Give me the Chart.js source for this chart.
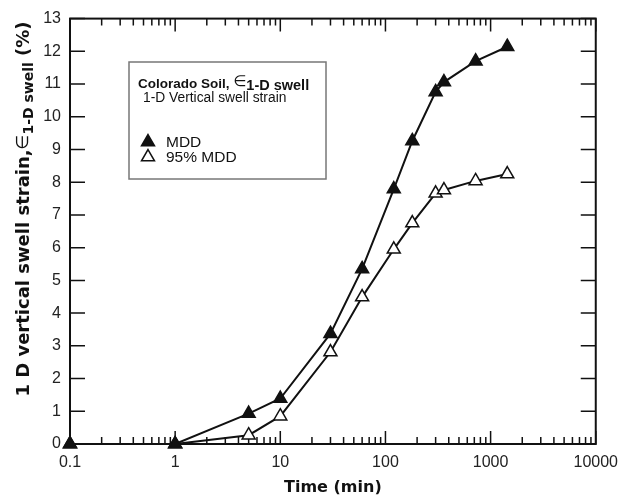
<!DOCTYPE html>
<html>
<head>
<meta charset="utf-8">
<script src="https://cdn.jsdelivr.net/npm/chart.js@4.4.0/dist/chart.umd.min.js"></script>
<style>
  html, body { margin: 0; padding: 0; background: #fff; }
  #wrap { width: 627px; height: 498px; }
</style>
</head>
<body>
<div id="wrap"><canvas id="swell-chart" width="627" height="498"></canvas></div>
<script>
// time (min) and 1-D vertical swell strain (%)
const timesMin = [0.1, 1, 5, 10, 30, 60, 120, 180, 300, 360, 720, 1440];
const mddStrain = [0, 0, 0.93, 1.39, 3.37, 5.35, 7.79, 9.26, 10.76, 11.06, 11.7, 12.14];
const mdd95Strain = [0, 0, 0.27, 0.85, 2.81, 4.49, 5.95, 6.75, 7.66, 7.76, 8.04, 8.25];
const seriesNames = ["MDD", "95% MDD"];
const xTickValues = [0.1, 1, 10, 100, 1000, 10000];
const yTickValues = [0, 1, 2, 3, 4, 5, 6, 7, 8, 9, 10, 11, 12, 13];

const toPoints = ys => timesMin.map((t, i) => ({ x: t, y: ys[i] }));
const INK = "#111";

// frame + inward ticks on all four sides (drawn under the markers)
const frameTicks = {
    id: "frameTicks",
    beforeDatasetsDraw(chart) {
        const { ctx, chartArea: a, scales: { x, y } } = chart;
        ctx.save();
        ctx.strokeStyle = INK;
        ctx.lineWidth = 1.5;
        ctx.beginPath();
        // x ticks, major and minor, bottom and top
        xTickValues.forEach((v, i) => {
            const px = x.getPixelForValue(v);
            ctx.moveTo(px, a.bottom); ctx.lineTo(px, a.bottom - 13);
            ctx.moveTo(px, a.top); ctx.lineTo(px, a.top + 13);
            if (i < xTickValues.length - 1) {
                for (let k = 2; k <= 9; k++) {
                    const mx = x.getPixelForValue(v * k);
                    ctx.moveTo(mx, a.bottom); ctx.lineTo(mx, a.bottom - 7);
                    ctx.moveTo(mx, a.top); ctx.lineTo(mx, a.top + 7);
                }
            }
        });
        // y ticks left and right
        yTickValues.forEach(v => {
            const py = y.getPixelForValue(v);
            ctx.moveTo(a.left, py); ctx.lineTo(a.left + 15, py);
            ctx.moveTo(a.right, py); ctx.lineTo(a.right - 15, py);
        });
        ctx.stroke();
        ctx.lineWidth = 2;
        ctx.strokeRect(a.left, a.top, a.right - a.left, a.bottom - a.top);
        ctx.restore();
    }
};

// draw a run of text pieces with different fonts and baseline shifts
function drawRuns(ctx, runs, x, y) {
    let cx = x;
    runs.forEach(r => {
        ctx.font = r.font;
        ctx.fillText(r.text, cx, y + (r.dy || 0));
        cx += ctx.measureText(r.text).width;
    });
}
function runsWidth(ctx, runs) {
    return runs.reduce((w, r) => { ctx.font = r.font; return w + ctx.measureText(r.text).width; }, 0);
}

const annotations = {
    id: "annotations",
    afterDraw(chart) {
        const { ctx } = chart;
        ctx.save();
        ctx.fillStyle = INK;
        ctx.textBaseline = "alphabetic";

        // y axis title with subscript
        const yTitle = [
            { text: "1 D vertical swell strain,", font: "bold 18px 'DejaVu Sans'" },
            { text: "\u2208", font: "17px 'DejaVu Sans'", dy: -1 },
            { text: "1-D swell", font: "bold 14px 'DejaVu Sans'", dy: 4 },
            { text: " (%)", font: "bold 18px 'DejaVu Sans'" }
        ];
        ctx.translate(29, 209);
        ctx.rotate(-Math.PI / 2);
        drawRuns(ctx, yTitle, -runsWidth(ctx, yTitle) / 2, 0);
        ctx.setTransform(1, 0, 0, 1, 0, 0);

        // legend box
        const bx = 129, by = 62, bw = 197, bh = 117;
        ctx.fillStyle = "#fff";
        ctx.fillRect(bx, by, bw, bh);
        ctx.strokeStyle = "#777";
        ctx.lineWidth = 1.5;
        ctx.strokeRect(bx, by, bw, bh);

        ctx.fillStyle = INK;
        drawRuns(ctx, [
            { text: "Colorado Soil, ", font: "bold 13.5px 'Liberation Sans'" },
            { text: "\u2208", font: "15px 'DejaVu Sans'", dy: -2 },
            { text: "1-D swell", font: "bold 14.5px 'Liberation Sans'", dy: 2 }
        ], 138, 88);
        ctx.font = "13.8px 'Liberation Sans'";
        ctx.fillText("1-D Vertical swell strain", 143, 102);

        const ds = chart.data.datasets;
        [142, 157].forEach((ly, i) => {
            ctx.fillStyle = ds[i].pointBackgroundColor;
            ctx.strokeStyle = INK;
            ctx.lineWidth = 1.5;
            Chart.helpers.drawPoint(ctx, { pointStyle: "triangle", radius: 7.5, rotation: 0, borderWidth: 1.5 }, 148, ly);
            ctx.fillStyle = INK;
            ctx.font = "15.5px 'Liberation Sans'";
            ctx.textBaseline = "middle";
            ctx.fillText(seriesNames[i], 166, ly + 1);
        });
        ctx.restore();
    }
};

const ctx = document.getElementById("swell-chart").getContext("2d");
new Chart(ctx, {
    type: "line",
    data: {
        datasets: [
            {
                label: seriesNames[0],
                data: toPoints(mddStrain),
                borderColor: INK,
                borderWidth: 2,
                pointStyle: "triangle",
                pointRadius: 7.5,
                pointBackgroundColor: INK,
                pointBorderColor: INK,
                pointBorderWidth: 1.5,
                tension: 0,
                clip: false
            },
            {
                label: seriesNames[1],
                data: toPoints(mdd95Strain),
                borderColor: INK,
                borderWidth: 2,
                pointStyle: "triangle",
                pointRadius: 7.5,
                pointBackgroundColor: "#fff",
                pointBorderColor: INK,
                pointBorderWidth: 1.5,
                tension: 0,
                clip: false
            }
        ]
    },
    options: {
        responsive: false,
        animation: false,
        layout: { padding: { left: 0, right: 24, top: 17, bottom: 0 } },
        plugins: {
            legend: { display: false },
            tooltip: { enabled: false }
        },
        scales: {
            x: {
                type: "logarithmic",
                min: 0.1,
                max: 10000,
                afterBuildTicks: s => { s.ticks = xTickValues.map(v => ({ value: v })); },
                afterFit: s => { s.height = 54; },
                grid: { display: false, drawTicks: false },
                border: { display: false },
                ticks: {
                    color: "#222",
                    font: { family: "'Liberation Sans'", size: 16 },
                    padding: 9,
                    maxRotation: 0,
                    autoSkip: false,
                    callback: v => String(v)
                },
                title: {
                    display: true,
                    text: "Time (min)",
                    color: INK,
                    font: { family: "'DejaVu Sans'", size: 16, weight: "bold" },
                    padding: { top: 0, bottom: 1 }
                }
            },
            y: {
                min: 0,
                max: 13,
                afterBuildTicks: s => { s.ticks = yTickValues.map(v => ({ value: v })); },
                afterFit: s => { s.width = 70; },
                grid: { display: false, drawTicks: false },
                border: { display: false },
                ticks: {
                    color: "#222",
                    font: { family: "'Liberation Sans'", size: 16 },
                    padding: 9
                }
            }
        }
    },
    plugins: [frameTicks, annotations]
});
</script>
</body>
</html>
